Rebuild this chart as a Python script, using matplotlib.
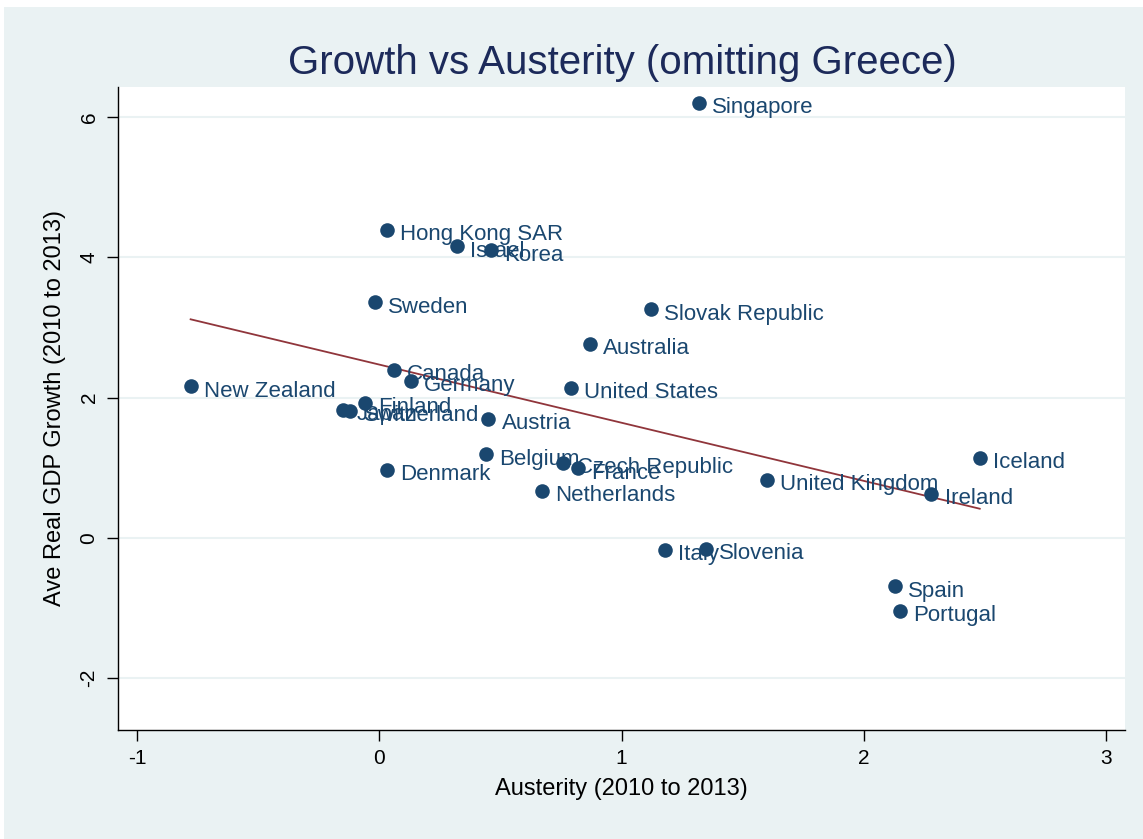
import matplotlib
matplotlib.use("Agg")
import matplotlib.pyplot as plt
from matplotlib import font_manager
from matplotlib.patches import Rectangle
import numpy as np

countries = ["Singapore", "Hong Kong SAR", "Israel", "Korea", "Sweden",
             "Slovak Republic", "Australia", "Canada", "Germany", "New Zealand",
             "United States", "Finland", "Japan", "Switzerland", "Austria",
             "Denmark", "Belgium", "Czech Republic", "France", "Netherlands",
             "United Kingdom", "Iceland", "Ireland", "Italy", "Slovenia",
             "Spain", "Portugal"]
austerity = [1.32, 0.03, 0.32, 0.46, -0.02,
             1.12, 0.87, 0.06, 0.13, -0.78,
             0.79, -0.06, -0.15, -0.12, 0.45,
             0.03, 0.44, 0.76, 0.82, 0.67,
             1.60, 2.48, 2.28, 1.18, 1.35,
             2.13, 2.15]
growth = [6.20, 4.39, 4.16, 4.10, 3.36,
          3.26, 2.77, 2.40, 2.24, 2.16,
          2.14, 1.93, 1.83, 1.81, 1.70,
          0.97, 1.19, 1.07, 0.99, 0.67,
          0.83, 1.14, 0.63, -0.17, -0.16,
          -0.69, -1.04]

navy = "#1a476f"
maroon = "#90353b"
bg = "#eaf2f3"

names = {f.name for f in font_manager.fontManager.ttflist}
narrow = "Liberation Sans Narrow" if "Liberation Sans Narrow" in names else "Liberation Sans"
plt.rcParams["font.family"] = "Liberation Sans"
plt.rcParams["axes.unicode_minus"] = False

fig = plt.figure(figsize=(11.43, 8.39), dpi=100, facecolor="white")
fig.patches.append(Rectangle((4 / 1143, 0), 1, 1 - 7 / 839, transform=fig.transFigure,
                             facecolor=bg, edgecolor="none", zorder=-10))
ax = fig.add_axes([118 / 1143, 1 - 730 / 839, (1125 - 118) / 1143, (730 - 87) / 839])
ax.set_facecolor("white")

x = np.array(austerity)
y = np.array(growth)
slope, icpt = np.polyfit(x, y, 1)
xs = np.array([x.min(), x.max()])
ax.plot(xs, icpt + slope * xs, color=maroon, lw=1.3, zorder=2)

ax.scatter(x, y, s=110, color=navy, zorder=3, linewidths=0)
for name, a, g in zip(countries, austerity, growth):
    ax.annotate(name, (a, g), xytext=(9.5, -3.5), textcoords="offset points",
                ha="left", va="center", fontsize=16, color=navy, zorder=4)

ax.set_xlim(-1.08, 3.08)
ax.set_ylim(-2.74, 6.43)
ax.set_xticks([-1, 0, 1, 2, 3])
ax.set_yticks([-2, 0, 2, 4, 6])
ax.grid(axis="y", color=bg, lw=1.5)
ax.set_axisbelow(True)
for s in ["top", "right"]:
    ax.spines[s].set_visible(False)
ax.spines["left"].set_linewidth(1)
ax.spines["bottom"].set_linewidth(1)
ax.tick_params(direction="out", length=8, width=1, labelsize=15, pad=6)
for lab in ax.get_xticklabels() + ax.get_yticklabels():
    lab.set_family(narrow)
for lab in ax.get_yticklabels():
    lab.set_rotation(90)
    lab.set_va("center")

ax.set_xlabel("Austerity (2010 to 2013)", fontsize=17, family=narrow, labelpad=7)
ax.set_ylabel("Ave Real GDP Growth (2010 to 2013)", fontsize=17, family=narrow, labelpad=10)
fig.text(0.5442, 1 - 63 / 839, "Growth vs Austerity (omitting Greece)", ha="center",
         va="center", fontsize=29, color="#1c2a5a")

fig.savefig("out.png", dpi=100, facecolor=fig.get_facecolor())
